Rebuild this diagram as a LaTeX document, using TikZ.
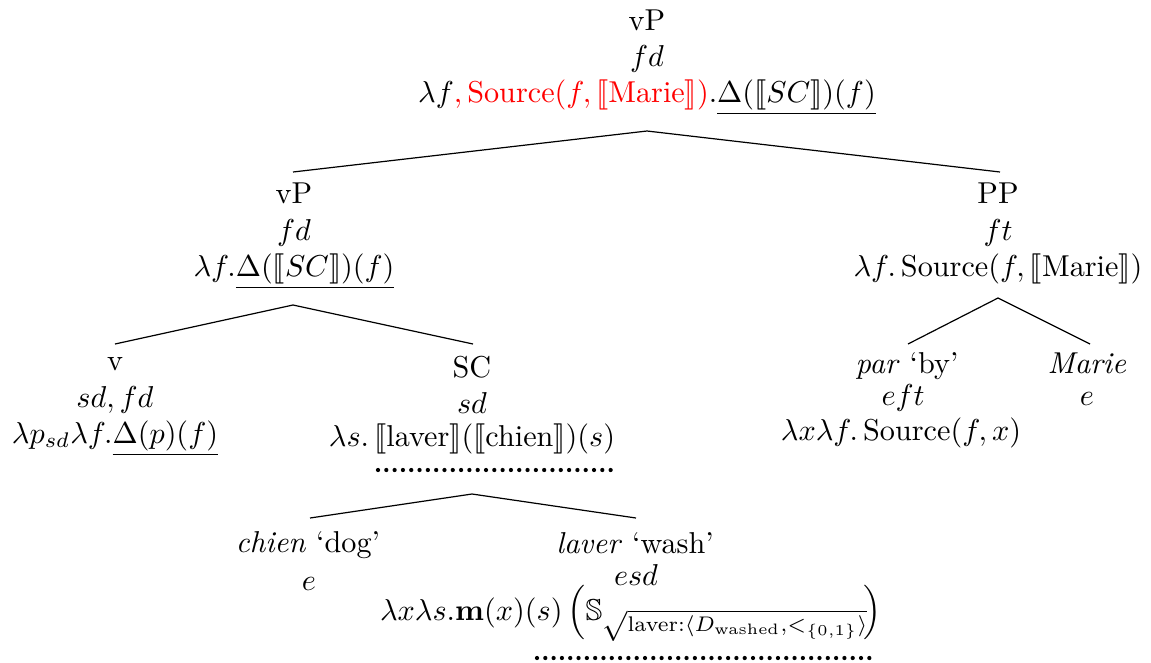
\documentclass[tikz,border=0pt]{standalone}
\usepackage{amsmath,amssymb,stmaryrd}
\begin{document}
\begin{tikzpicture}[x=0.331pt,y=-0.331pt,
  lbl/.style={anchor=base,inner sep=0pt},
  edge/.style={line width=0.4pt},
  dotline/.style={line width=1.4pt,dash pattern=on 0pt off 2.75pt,line cap=round}]
\useasboundingbox (0,0) rectangle (1151,662);
% root
\node[lbl] (root-a) at (647,30) {vP};
\node[lbl] (root-b) at (647,66) {$fd$};
\node[lbl] (root-c) at (647,102) {$\lambda f{\color{red}, \text{Source}(f, \llbracket\text{Marie}\rrbracket)}.\underline{\Delta(\llbracket SC\rrbracket)(f)}$};
% vP
\node[lbl] (vp-a) at (294,203) {vP};
\node[lbl] (vp-b) at (294,240) {$fd$};
\node[lbl] (vp-c) at (294,276) {$\lambda f.\underline{\Delta(\llbracket SC\rrbracket)(f)}$};
% PP
\node[lbl] (pp-a) at (998,203) {PP};
\node[lbl] (pp-b) at (998,240) {$ft$};
\node[lbl] (pp-c) at (998,276) {$\lambda f.\,\text{Source}(f, \llbracket\text{Marie}\rrbracket)$};
% v
\node[lbl] (v-a) at (115,370) {v};
\node[lbl] (v-b) at (115,407) {$sd, fd$};
\node[lbl] (v-c) at (115,443) {$\lambda p_{sd}\lambda f.\underline{\Delta(p)(f)}$};
% SC
\node[lbl] (sc-a) at (472,377) {SC};
\node[lbl] (sc-b) at (472,413) {$sd$};
\node[lbl] (sc-c) at (472,446) {$\lambda s.\,\llbracket\text{laver}\rrbracket(\llbracket\text{chien}\rrbracket)(s)$};
% par
\node[lbl] (par-a) at (907,373) {\textit{par} `by'};
\node[lbl] (par-b) at (903,405) {$eft$};
\node[lbl] (par-c) at (901,440) {$\lambda x\lambda f.\,\text{Source}(f,x)$};
% Marie
\node[lbl] (marie-a) at (1087,373) {\textit{Marie}};
\node[lbl] (marie-b) at (1087,405) {$e$};
% chien
\node[lbl] (chien-a) at (308,552) {\textit{chien} `dog'};
\node[lbl] (chien-b) at (309,590) {$e$};
% laver
\node[lbl] (laver-a) at (635,553) {\textit{laver} `wash'};
\node[lbl] (laver-b) at (636,585) {$esd$};
\node[lbl] (laver-c) at (631,620) {$\lambda x\lambda s.\mathbf{m}(x)(s)\left(\mathbb{S}_{\sqrt{\text{laver:}\langle D_{\text{washed}},<_{\{0,1\}}\rangle}}\!\right)$};
% edge anchors
\coordinate (root-s) at (647,131);
\coordinate (vp-n) at (293,172);
\coordinate (pp-n) at (1000,172);
\coordinate (vp-s) at (293,305);
\coordinate (v-n) at (115,344);
\coordinate (sc-n) at (473,344);
\coordinate (pp-s) at (998,298);
\coordinate (par-n) at (908,344);
\coordinate (marie-n) at (1090,344);
\coordinate (sc-s) at (472,494);
\coordinate (chien-n) at (310,518);
\coordinate (laver-n) at (636,518);
\draw[edge] (vp-n) -- (root-s) -- (pp-n);
\draw[edge] (v-n) -- (vp-s) -- (sc-n);
\draw[edge] (par-n) -- (pp-s) -- (marie-n);
\draw[edge] (chien-n) -- (sc-s) -- (laver-n);
% dotted underlines
\coordinate (scd-l) at (378,470);
\coordinate (scd-r) at (611,470);
\coordinate (lvd-l) at (537,658);
\coordinate (lvd-r) at (871,658);
\draw[dotline] (scd-l) -- (scd-r);
\draw[dotline] (lvd-l) -- (lvd-r);
\end{tikzpicture}
\end{document}
